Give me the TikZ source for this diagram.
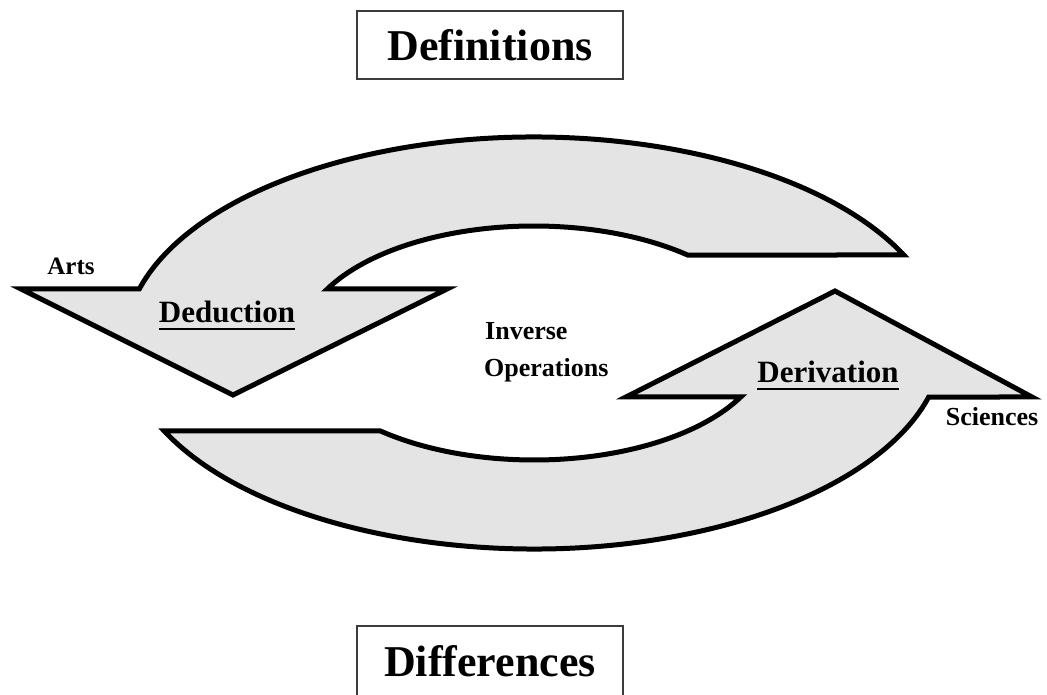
\documentclass[tikz,border=0pt]{standalone}
\usepackage{fontspec}
\setmainfont{Liberation Serif}
\definecolor{arrowgray}{RGB}{228,228,228}
\definecolor{boxline}{RGB}{60,60,60}
\begin{document}
\begin{tikzpicture}[x=1pt,y=1pt,
  bigarrow/.style={fill=arrowgray, draw=black, line width=5pt, line join=miter},
  titlebox/.style={draw=boxline, line width=2.5pt, minimum width=266pt, inner sep=0pt,
    font=\bfseries\fontsize{44}{50}\selectfont},
  lbl/.style={inner sep=0pt, anchor=base, font=\bfseries\fontsize{#1}{#1}\selectfont},
  uline/.style={line width=2pt}]
\useasboundingbox (0,0) rectangle (1047,694);

% the two curved arrows, drawn about the centre of the cycle
\begin{scope}[shift={(534,351)}]
  % upper arrow, pointing down at the left
  \draw[bigarrow] (25.29:409 and 206)
    arc[start angle=25.29, end angle=164.80, x radius=409, y radius=206]
    -- (-513,54) -- (-301,-52) -- (-87,54)
    -- (152.51:233 and 117)
    arc[start angle=152.51, end angle=48.77, x radius=233, y radius=117]
    -- cycle;
  % lower arrow, pointing up at the right
  \draw[bigarrow] (205.29:409 and 206)
    arc[start angle=205.29, end angle=344.80, x radius=409, y radius=206]
    -- (498,-54) -- (301,52) -- (92,-54)
    -- (332.51:233 and 117)
    arc[start angle=332.51, end angle=228.77, x radius=233, y radius=117]
    -- cycle;
\end{scope}

% framed titles
\node[titlebox, minimum height=68pt] (defs) at (490,649) {Definitions};
\node[titlebox, minimum height=71pt] (diffs) at (490,32.5) {Differences};

% labels
\node[lbl=25] (arts) at (71,419) {Arts};
\node[lbl=31] (ded) at (227,371) {Deduction};
\node[lbl=26, anchor=base west] (inv) at (485,354) {Inverse};
\node[lbl=26, anchor=base west] (ops) at (484,317) {Operations};
\node[lbl=31] (der) at (828,311) {Derivation};
\node[lbl=26] (sci) at (992,268) {Sciences};

% underlines
\draw[uline] ([yshift=-6.5pt]ded.base west) -- ([yshift=-6.5pt]ded.base east);
\draw[uline] ([yshift=-6.5pt]der.base west) -- ([yshift=-6.5pt]der.base east);
\end{tikzpicture}
\end{document}
